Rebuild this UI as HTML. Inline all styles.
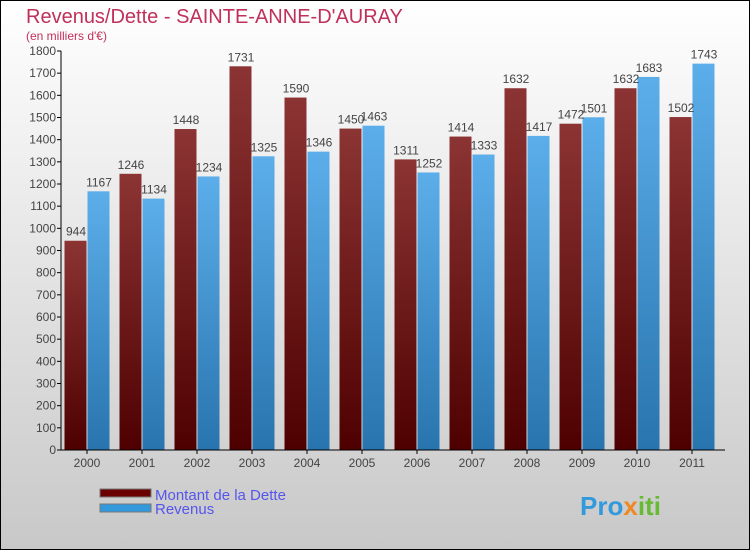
<!DOCTYPE html>
<html><head><meta charset="utf-8"><style>
body{margin:0}
svg text{font-family:"Liberation Sans",sans-serif}
</style></head><body>
<svg width="750" height="550" xmlns="http://www.w3.org/2000/svg">
<defs>
<linearGradient id="bg" x1="0" y1="0" x2="0" y2="1"><stop offset="0" stop-color="#ffffff"/><stop offset="1" stop-color="#c8c8c8"/></linearGradient>
<linearGradient id="gd" x1="0" y1="0" x2="0" y2="1"><stop offset="0" stop-color="#8c3434"/><stop offset="1" stop-color="#4e0000"/></linearGradient>
<linearGradient id="gr" x1="0" y1="0" x2="0" y2="1"><stop offset="0" stop-color="#5caeea"/><stop offset="1" stop-color="#2874ae"/></linearGradient>
</defs>
<rect x="0.5" y="0.5" width="749" height="549" fill="url(#bg)" stroke="#000"/>
<text x="26" y="23" font-size="20" fill="#c0305a">Revenus/Dette - SAINTE-ANNE-D'AURAY</text>
<text x="26" y="40" font-size="12" fill="#c0305a">(en milliers d'€)</text>
<g id="plot"></g>
<g>
<rect x="100" y="489" width="51" height="8" fill="#6a0000" stroke="#777"/>
<text x="155" y="500" font-size="15" fill="#5555ee">Montant de la Dette</text>
<rect x="100" y="504" width="51" height="8" fill="#3399dd" stroke="#777"/>
<text x="155" y="514" font-size="15" fill="#5555ee">Revenus</text>
</g>
<text x="580" y="515" font-size="26" font-weight="bold" fill="#3399dd">Pro<tspan fill="#ee8822">x</tspan><tspan fill="#66bb33">iti</tspan></text>
</svg>
<script>
const years=["2000","2001","2002","2003","2004","2005","2006","2007","2008","2009","2010","2011"];
const dette=[944,1246,1448,1731,1590,1450,1311,1414,1632,1472,1632,1502];
const revenus=[1167,1134,1234,1325,1346,1463,1252,1333,1417,1501,1683,1743];
const yTicks=[0,100,200,300,400,500,600,700,800,900,1000,1100,1200,1300,1400,1500,1600,1700,1800];
const NS="http://www.w3.org/2000/svg";
const g=document.getElementById('plot');
const x0=61,y0=450,yTop=51,yMax=1800,pitch=55,bw=22;
const ys=v=>y0-(v/yMax)*(y0-yTop);
const xc=i=>87+pitch*i;
function mk(t,a){const e=document.createElementNS(NS,t);for(const k in a)e.setAttribute(k,a[k]);g.appendChild(e);return e;}
yTicks.forEach(v=>{
 const l=mk('line',{x1:x0-4,x2:x0,y1:ys(v),y2:ys(v),stroke:'#000'});
 
 
 const t=mk('text',{x:x0-5,y:ys(v)+4,'font-size':12,'text-anchor':'end',fill:'#444'});
 t.textContent=v;
 
 
});
years.forEach((yr,i)=>{
 const c=xc(i);
 const a=mk('rect',{x:c-bw-0.5,y:ys(dette[i]),width:bw,height:y0-ys(dette[i]),fill:'url(#gd)'});
 
 
 const b=mk('rect',{x:c+0.5,y:ys(revenus[i]),width:bw,height:y0-ys(revenus[i]),fill:'url(#gr)'});
 
 
 const t1=mk('text',{x:c-bw/2,y:ys(dette[i])-5,'font-size':12,'text-anchor':'middle',fill:'#444'});
 t1.textContent=dette[i];
 
 
 const t2=mk('text',{x:c+bw/2+1,y:ys(revenus[i])-5,'font-size':12,'text-anchor':'middle',fill:'#444'});
 t2.textContent=revenus[i];
 
 
 const tk=mk('line',{x1:c,x2:c,y1:y0,y2:y0+4,stroke:'#000'});
 
 
 const xl=mk('text',{x:c,y:y0+17,'font-size':12,'text-anchor':'middle',fill:'#444'});
 xl.textContent=yr;
 
 
});
const ya=mk('line',{x1:x0,x2:x0,y1:yTop,y2:y0,stroke:'#000'});


const xa=mk('line',{x1:x0,x2:725,y1:y0,y2:y0,stroke:'#000'});


</script>
</body></html>
